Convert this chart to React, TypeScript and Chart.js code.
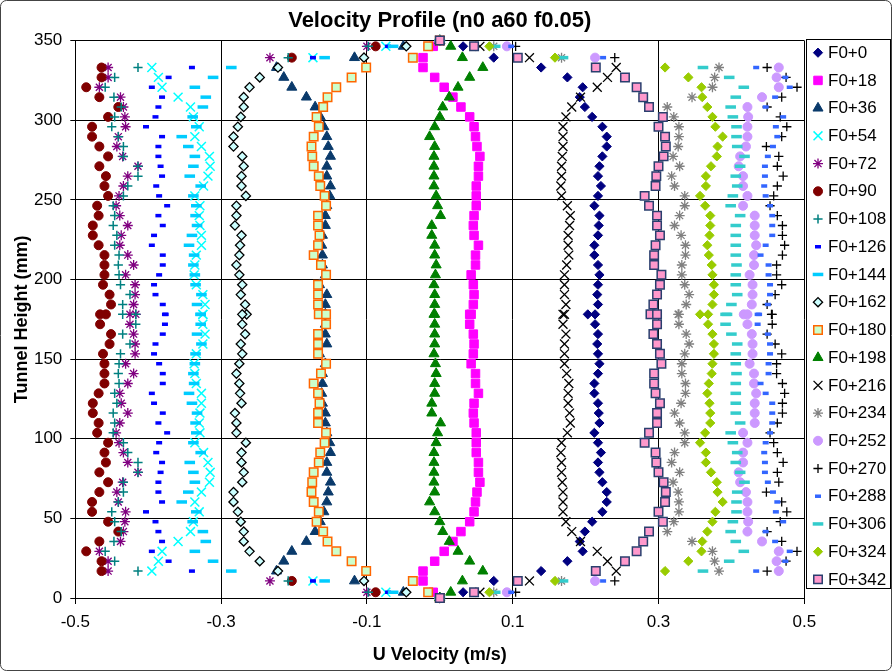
import React, { useEffect, useRef } from "react";
import { Chart, registerables } from "chart.js";
import { drawPoint } from "chart.js/helpers";

Chart.register(...registerables);

// Tunnel heights (mm) of the measurement rows
const heights = [0, 3.6, 10.7, 16.9, 23.1, 29.3, 35.5, 41.7, 47.9, 54.1, 60.3, 66.5, 72.7, 78.9, 85.1, 91.3, 97.5, 103.7, 109.9, 116.1, 122.3, 128.5, 134.7, 140.9, 147.1, 153.3, 159.5, 165.7, 171.9, 178.1, 178.1, 184.3, 190.5, 196.7, 202.9, 209.1, 215.3, 221.5, 227.7, 233.9, 240.1, 246.3, 252.5, 258.7, 264.9, 271.1, 277.3, 283.5, 289.7, 295.9, 302.1, 308.3, 314.5, 320.7, 326.9, 333.1, 339.3, 346.4, 350];

const seriesLabels = ["F0+0", "F0+18", "F0+36", "F0+54", "F0+72", "F0+90", "F0+108", "F0+126", "F0+144", "F0+162", "F0+180", "F0+198", "F0+216", "F0+234", "F0+252", "F0+270", "F0+288", "F0+306", "F0+324", "F0+342"];

const uF0 = [0, 0.032, 0.074, 0.139, 0.175, 0.196, 0.192, 0.199, 0.209, 0.223, 0.229, 0.229, 0.223, 0.219, 0.217, 0.221, 0.217, 0.212, 0.219, 0.218, 0.217, 0.212, 0.212, 0.217, 0.219, 0.217, 0.216, 0.217, 0.213, 0.203, 0.213, 0.217, 0.216, 0.217, 0.219, 0.217, 0.212, 0.212, 0.217, 0.218, 0.219, 0.212, 0.217, 0.221, 0.217, 0.219, 0.223, 0.229, 0.229, 0.223, 0.209, 0.199, 0.192, 0.196, 0.175, 0.139, 0.074, 0.032, 0];
const uF18 = [0, -0.009, -0.023, -0.023, -0.007, 0.006, 0.018, 0.029, 0.041, 0.047, 0.049, 0.051, 0.055, 0.053, 0.053, 0.050, 0.050, 0.050, 0.047, 0.046, 0.047, 0.053, 0.049, 0.049, 0.043, 0.046, 0.047, 0.046, 0.041, 0.043, 0.041, 0.046, 0.047, 0.046, 0.043, 0.049, 0.049, 0.053, 0.047, 0.046, 0.047, 0.050, 0.050, 0.050, 0.053, 0.053, 0.055, 0.051, 0.049, 0.047, 0.041, 0.029, 0.018, 0.006, -0.007, -0.023, -0.023, -0.009, 0];
const uF36 = [0, -0.050, -0.117, -0.224, -0.214, -0.203, -0.183, -0.171, -0.164, -0.159, -0.155, -0.153, -0.150, -0.155, -0.155, -0.150, -0.151, -0.155, -0.157, -0.157, -0.161, -0.162, -0.161, -0.161, -0.157, -0.165, -0.155, -0.157, -0.157, -0.157, -0.157, -0.157, -0.155, -0.165, -0.157, -0.161, -0.161, -0.162, -0.161, -0.157, -0.157, -0.155, -0.151, -0.150, -0.155, -0.155, -0.150, -0.153, -0.155, -0.159, -0.164, -0.171, -0.183, -0.203, -0.214, -0.224, -0.117, -0.050, 0];
const uF54 = [0, -0.074, -0.174, -0.395, -0.386, -0.381, -0.359, -0.342, -0.338, -0.330, -0.336, -0.327, -0.316, -0.315, -0.318, -0.324, -0.336, -0.329, -0.330, -0.329, -0.327, -0.327, -0.334, -0.336, -0.337, -0.334, -0.325, -0.322, -0.325, -0.325, -0.325, -0.322, -0.325, -0.334, -0.337, -0.336, -0.334, -0.327, -0.327, -0.329, -0.330, -0.329, -0.336, -0.324, -0.318, -0.315, -0.316, -0.327, -0.336, -0.330, -0.338, -0.342, -0.359, -0.381, -0.386, -0.395, -0.174, -0.074, 0];
const uF72 = [0, -0.100, -0.233, -0.455, -0.455, -0.467, -0.438, -0.434, -0.432, -0.431, -0.441, -0.443, -0.435, -0.414, -0.428, -0.434, -0.440, -0.444, -0.439, -0.428, -0.437, -0.439, -0.428, -0.420, -0.431, -0.418, -0.418, -0.420, -0.425, -0.417, -0.425, -0.420, -0.418, -0.418, -0.431, -0.420, -0.428, -0.439, -0.437, -0.428, -0.439, -0.444, -0.440, -0.434, -0.428, -0.414, -0.435, -0.443, -0.441, -0.431, -0.432, -0.434, -0.438, -0.467, -0.455, -0.455, -0.233, -0.100, 0];
const uF90 = [0, -0.088, -0.203, -0.464, -0.464, -0.485, -0.467, -0.441, -0.455, -0.477, -0.477, -0.467, -0.455, -0.467, -0.458, -0.460, -0.455, -0.470, -0.468, -0.476, -0.476, -0.468, -0.460, -0.460, -0.460, -0.462, -0.453, -0.451, -0.466, -0.458, -0.466, -0.451, -0.453, -0.462, -0.460, -0.460, -0.460, -0.468, -0.476, -0.476, -0.468, -0.470, -0.455, -0.460, -0.458, -0.467, -0.455, -0.467, -0.477, -0.477, -0.455, -0.441, -0.467, -0.485, -0.464, -0.464, -0.203, -0.088, 0];
const uF108 = [0, -0.098, -0.208, -0.414, -0.446, -0.459, -0.447, -0.437, -0.446, -0.450, -0.441, -0.434, -0.434, -0.414, -0.414, -0.428, -0.434, -0.448, -0.446, -0.448, -0.443, -0.446, -0.440, -0.441, -0.440, -0.438, -0.425, -0.435, -0.417, -0.435, -0.417, -0.435, -0.425, -0.438, -0.440, -0.441, -0.440, -0.446, -0.443, -0.448, -0.446, -0.448, -0.434, -0.428, -0.414, -0.414, -0.434, -0.434, -0.441, -0.450, -0.446, -0.437, -0.447, -0.459, -0.446, -0.414, -0.208, -0.098, 0];
const uF126 = [0, -0.071, -0.174, -0.340, -0.372, -0.395, -0.381, -0.386, -0.390, -0.403, -0.381, -0.386, -0.386, -0.383, -0.381, -0.389, -0.385, -0.374, -0.386, -0.380, -0.392, -0.395, -0.380, -0.380, -0.385, -0.392, -0.390, -0.380, -0.377, -0.376, -0.377, -0.380, -0.390, -0.392, -0.385, -0.380, -0.380, -0.395, -0.392, -0.380, -0.386, -0.374, -0.385, -0.389, -0.381, -0.383, -0.386, -0.386, -0.381, -0.403, -0.390, -0.386, -0.381, -0.395, -0.372, -0.340, -0.174, -0.071, 0];
const uF144 = [0, -0.064, -0.158, -0.286, -0.311, -0.336, -0.321, -0.325, -0.339, -0.334, -0.354, -0.345, -0.336, -0.338, -0.343, -0.328, -0.338, -0.334, -0.335, -0.333, -0.340, -0.344, -0.337, -0.338, -0.336, -0.335, -0.327, -0.333, -0.328, -0.328, -0.328, -0.333, -0.327, -0.335, -0.336, -0.338, -0.337, -0.344, -0.340, -0.333, -0.335, -0.334, -0.338, -0.328, -0.343, -0.338, -0.336, -0.345, -0.354, -0.334, -0.339, -0.325, -0.321, -0.336, -0.311, -0.286, -0.158, -0.064, 0];
const uF162 = [0, -0.046, -0.104, -0.222, -0.247, -0.261, -0.269, -0.269, -0.273, -0.277, -0.283, -0.283, -0.271, -0.269, -0.272, -0.272, -0.266, -0.279, -0.279, -0.281, -0.272, -0.274, -0.275, -0.279, -0.275, -0.271, -0.273, -0.267, -0.271, -0.265, -0.271, -0.267, -0.273, -0.271, -0.275, -0.279, -0.275, -0.274, -0.272, -0.281, -0.279, -0.279, -0.266, -0.272, -0.272, -0.269, -0.271, -0.283, -0.283, -0.277, -0.273, -0.269, -0.269, -0.261, -0.247, -0.222, -0.104, -0.046, 0];
const uF180 = [0, -0.016, -0.037, -0.101, -0.121, -0.142, -0.154, -0.160, -0.169, -0.166, -0.173, -0.176, -0.175, -0.173, -0.166, -0.164, -0.158, -0.156, -0.167, -0.167, -0.165, -0.167, -0.173, -0.163, -0.156, -0.167, -0.167, -0.167, -0.156, -0.166, -0.156, -0.167, -0.167, -0.167, -0.156, -0.163, -0.173, -0.167, -0.165, -0.167, -0.167, -0.156, -0.158, -0.164, -0.166, -0.173, -0.175, -0.176, -0.173, -0.166, -0.169, -0.160, -0.154, -0.142, -0.121, -0.101, -0.037, -0.016, 0];
const uF198 = [0, 0.015, 0.031, 0.059, 0.041, 0.025, 0.013, 0.004, 0.000, -0.007, -0.014, -0.007, -0.008, -0.008, -0.008, -0.008, -0.005, -0.003, 0.001, -0.011, -0.011, -0.007, -0.007, -0.005, -0.006, -0.008, -0.007, -0.007, -0.007, -0.008, -0.007, -0.007, -0.007, -0.008, -0.006, -0.005, -0.007, -0.007, -0.011, -0.011, 0.001, -0.003, -0.005, -0.008, -0.008, -0.008, -0.008, -0.007, -0.014, -0.007, 0.000, 0.004, 0.013, 0.025, 0.041, 0.059, 0.031, 0.015, 0];
const uF216 = [0, 0.055, 0.123, 0.242, 0.230, 0.216, 0.193, 0.181, 0.173, 0.169, 0.169, 0.169, 0.168, 0.167, 0.167, 0.166, 0.167, 0.175, 0.179, 0.178, 0.176, 0.176, 0.177, 0.174, 0.171, 0.171, 0.171, 0.173, 0.169, 0.171, 0.169, 0.173, 0.171, 0.171, 0.171, 0.174, 0.177, 0.176, 0.176, 0.178, 0.179, 0.175, 0.167, 0.166, 0.167, 0.167, 0.168, 0.169, 0.169, 0.169, 0.173, 0.181, 0.193, 0.216, 0.230, 0.242, 0.123, 0.055, 0];
const uF234 = [0, 0.074, 0.167, 0.383, 0.377, 0.374, 0.346, 0.312, 0.321, 0.328, 0.328, 0.327, 0.320, 0.329, 0.318, 0.322, 0.336, 0.336, 0.329, 0.322, 0.331, 0.337, 0.337, 0.332, 0.332, 0.336, 0.342, 0.338, 0.328, 0.327, 0.328, 0.338, 0.342, 0.336, 0.332, 0.332, 0.337, 0.337, 0.331, 0.322, 0.329, 0.336, 0.336, 0.322, 0.318, 0.329, 0.320, 0.327, 0.328, 0.328, 0.321, 0.312, 0.346, 0.374, 0.377, 0.383, 0.167, 0.074, 0];
const uF252 = [0, 0.092, 0.213, 0.465, 0.462, 0.465, 0.442, 0.422, 0.423, 0.422, 0.422, 0.420, 0.412, 0.410, 0.416, 0.416, 0.422, 0.416, 0.432, 0.432, 0.432, 0.434, 0.431, 0.431, 0.425, 0.429, 0.429, 0.428, 0.422, 0.417, 0.422, 0.428, 0.429, 0.429, 0.425, 0.431, 0.431, 0.434, 0.432, 0.432, 0.432, 0.416, 0.422, 0.416, 0.416, 0.410, 0.412, 0.420, 0.422, 0.422, 0.423, 0.422, 0.442, 0.465, 0.462, 0.465, 0.213, 0.092, 0];
const uF270 = [0, 0.104, 0.240, 0.449, 0.475, 0.490, 0.469, 0.449, 0.467, 0.476, 0.469, 0.448, 0.465, 0.463, 0.471, 0.463, 0.458, 0.453, 0.463, 0.470, 0.470, 0.473, 0.470, 0.462, 0.462, 0.469, 0.460, 0.449, 0.456, 0.455, 0.456, 0.449, 0.460, 0.469, 0.462, 0.462, 0.470, 0.473, 0.470, 0.470, 0.463, 0.453, 0.458, 0.463, 0.471, 0.463, 0.465, 0.448, 0.469, 0.476, 0.467, 0.449, 0.469, 0.490, 0.475, 0.449, 0.240, 0.104, 0];
const uF288 = [0, 0.098, 0.224, 0.434, 0.474, 0.480, 0.460, 0.447, 0.471, 0.461, 0.463, 0.457, 0.450, 0.446, 0.446, 0.445, 0.447, 0.453, 0.456, 0.456, 0.456, 0.447, 0.440, 0.451, 0.451, 0.453, 0.453, 0.450, 0.436, 0.438, 0.436, 0.450, 0.453, 0.453, 0.451, 0.451, 0.440, 0.447, 0.456, 0.456, 0.456, 0.453, 0.447, 0.445, 0.446, 0.446, 0.450, 0.457, 0.463, 0.461, 0.471, 0.447, 0.460, 0.480, 0.474, 0.434, 0.224, 0.098, 0];
const uF306 = [0, 0.076, 0.169, 0.361, 0.397, 0.417, 0.406, 0.399, 0.402, 0.407, 0.407, 0.408, 0.418, 0.412, 0.406, 0.408, 0.402, 0.399, 0.412, 0.406, 0.406, 0.406, 0.406, 0.407, 0.406, 0.406, 0.408, 0.400, 0.392, 0.394, 0.392, 0.400, 0.408, 0.406, 0.406, 0.407, 0.406, 0.406, 0.406, 0.406, 0.412, 0.399, 0.402, 0.408, 0.406, 0.412, 0.418, 0.408, 0.407, 0.407, 0.402, 0.399, 0.406, 0.417, 0.397, 0.361, 0.169, 0.076, 0];
const uF324 = [0, 0.068, 0.158, 0.309, 0.341, 0.359, 0.360, 0.367, 0.374, 0.378, 0.388, 0.381, 0.380, 0.372, 0.365, 0.365, 0.357, 0.364, 0.371, 0.371, 0.370, 0.367, 0.369, 0.373, 0.374, 0.376, 0.376, 0.374, 0.368, 0.357, 0.368, 0.374, 0.376, 0.376, 0.374, 0.373, 0.369, 0.367, 0.370, 0.371, 0.371, 0.364, 0.357, 0.365, 0.365, 0.372, 0.380, 0.381, 0.388, 0.378, 0.374, 0.367, 0.360, 0.359, 0.341, 0.309, 0.158, 0.068, 0];
const uF342 = [0, 0.047, 0.107, 0.214, 0.254, 0.270, 0.279, 0.287, 0.306, 0.300, 0.309, 0.310, 0.307, 0.300, 0.297, 0.296, 0.281, 0.287, 0.298, 0.298, 0.302, 0.296, 0.294, 0.294, 0.304, 0.302, 0.298, 0.293, 0.298, 0.289, 0.298, 0.293, 0.298, 0.302, 0.304, 0.294, 0.294, 0.296, 0.302, 0.298, 0.298, 0.287, 0.281, 0.296, 0.297, 0.300, 0.307, 0.310, 0.309, 0.300, 0.306, 0.287, 0.279, 0.270, 0.254, 0.214, 0.107, 0.047, 0];

const seriesValues = [uF0, uF18, uF36, uF54, uF72, uF90, uF108, uF126, uF144, uF162, uF180, uF198, uF216, uF234, uF252, uF270, uF288, uF306, uF324, uF342];

const xTicks = [-0.5, -0.3, -0.1, 0.1, 0.3, 0.5];
const yTicks = [0, 50, 100, 150, 200, 250, 300, 350];

const FONT = "'Liberation Sans', Arial, Helvetica, sans-serif";

const markerStyles = [
  { pointStyle: "rectRot", radius: 4.6, fill: "#000080", stroke: "#000080", width: 1 },
  { pointStyle: "rect", radius: 6, fill: "#FF00FF", stroke: "#FF00FF", width: 1 },
  { pointStyle: "triangle", radius: 5.8, fill: "#0A3A6B", stroke: "#0A3A6B", width: 1 },
  { pointStyle: "crossRot", radius: 6.3, fill: "#00FFFF", stroke: "#00FFFF", width: 1.5 },
  { pointStyle: "star", radius: 5, fill: "#800080", stroke: "#800080", width: 1.3 },
  { pointStyle: "circle", radius: 4.5, fill: "#800000", stroke: "#800000", width: 1 },
  { pointStyle: "cross", radius: 4.6, fill: "#008080", stroke: "#008080", width: 1.5 },
  { pointStyle: "line", radius: 3, fill: "#0000FF", stroke: "#0000FF", width: 3.5 },
  { pointStyle: "line", radius: 5.3, fill: "#00CCFF", stroke: "#00CCFF", width: 3.5 },
  { pointStyle: "rectRot", radius: 4.6, fill: "#CCFFFF", stroke: "#000000", width: 1.3 },
  { pointStyle: "rect", radius: 6, fill: "#CCFFCC", stroke: "#FF6600", width: 1.5 },
  { pointStyle: "triangle", radius: 5.8, fill: "#008000", stroke: "#008000", width: 1 },
  { pointStyle: "crossRot", radius: 6.3, fill: "#000000", stroke: "#000000", width: 1.3 },
  { pointStyle: "star", radius: 5, fill: "#808080", stroke: "#808080", width: 1.3 },
  { pointStyle: "circle", radius: 4.5, fill: "#CC99FF", stroke: "#CC99FF", width: 1 },
  { pointStyle: "cross", radius: 4.6, fill: "#000000", stroke: "#000000", width: 1.3 },
  { pointStyle: "line", radius: 3, fill: "#3366FF", stroke: "#3366FF", width: 3.5 },
  { pointStyle: "line", radius: 5.3, fill: "#33CCCC", stroke: "#33CCCC", width: 3.5 },
  { pointStyle: "rectRot", radius: 4.6, fill: "#99CC00", stroke: "#99CC00", width: 1 },
  { pointStyle: "rect", radius: 6, fill: "#FF99CC", stroke: "#2A3F6E", width: 1.5 },
];

const frameAndLegend = {
  id: "frameAndLegend",
  beforeDraw(chart: any) {
    const { ctx, width, height } = chart;
    ctx.save();
    ctx.fillStyle = "#ffffff";
    ctx.fillRect(0, 0, width, height);
    ctx.restore();
  },
  afterDraw(chart: any) {
    const ctx = chart.ctx;
    ctx.save();
    const lx = 806, ly = 39, lw = 84, lh = 549;
    ctx.fillStyle = "#ffffff";
    ctx.fillRect(lx, ly, lw, lh);
    ctx.strokeStyle = "#000000";
    ctx.lineWidth = 1;
    ctx.strokeRect(lx + 0.5, ly + 0.5, lw, lh);
    ctx.font = `17px ${FONT}`;
    ctx.textBaseline = "middle";
    ctx.textAlign = "left";
    chart.data.datasets.forEach((ds: any, i: number) => {
      const y = ly + 13.7 + i * 27.72;
      ctx.fillStyle = ds.pointBackgroundColor;
      ctx.strokeStyle = ds.pointBorderColor;
      ctx.lineWidth = ds.pointBorderWidth;
      drawPoint(ctx, { pointStyle: ds.pointStyle, radius: ds.pointRadius, borderWidth: ds.pointBorderWidth, rotation: 0 }, 818, y);
      ctx.fillStyle = "#000000";
      ctx.fillText(ds.label, 828, y + 0.5);
    });
    ctx.strokeStyle = "#444444";
    ctx.lineWidth = 1;
    ctx.beginPath();
    if (ctx.roundRect) ctx.roundRect(0.5, 0.5, chart.width - 1, chart.height - 1, 6);
    else ctx.rect(0.5, 0.5, chart.width - 1, chart.height - 1);
    ctx.stroke();
    ctx.restore();
  },
};

export default function App() {
  const canvasRef = useRef<HTMLCanvasElement | null>(null);

  useEffect(() => {
    document.body.style.margin = "0";
    const canvas = canvasRef.current;
    if (!canvas) return;
    Chart.defaults.font.family = FONT;

    const datasets = seriesLabels.map((label, si) => {
      const st = markerStyles[si];
      return {
        label,
        data: seriesValues[si].map((u, i) => ({ x: u, y: heights[i] })),
        pointStyle: st.pointStyle,
        pointRadius: st.radius,
        pointHoverRadius: st.radius,
        pointBackgroundColor: st.fill,
        pointBorderColor: st.stroke,
        pointBorderWidth: st.width,
        showLine: false,
        clip: false,
        order: seriesLabels.length - si,
      };
    });

    const chart = new Chart(canvas, {
      type: "scatter",
      data: { datasets },
      options: {
        responsive: false,
        animation: false,
        devicePixelRatio: 1,
        events: [],
        layout: { padding: { left: 0, right: 87.7, top: 0, bottom: 0 } },
        plugins: {
          legend: { display: false },
          tooltip: { enabled: false },
          title: {
            display: true,
            fullSize: false,
            text: "Velocity Profile (n0 a60 f0.05)",
            color: "#000000",
            font: { family: FONT, size: 22, weight: "bold" },
            padding: { top: 8, bottom: 6.2 },
          },
        },
        scales: {
          x: {
            type: "linear",
            min: -0.5,
            max: 0.5,
            afterBuildTicks: (axis: any) => {
              axis.ticks = xTicks.map((v) => ({ value: v }));
            },
            afterFit: (axis: any) => {
              axis.height = 73;
            },
            grid: { color: "#000000", lineWidth: 1, drawTicks: true, tickLength: 6, tickColor: "#000000" },
            border: { color: "#000000", width: 1 },
            ticks: {
              color: "#000000",
              font: { family: FONT, size: 17 },
              padding: 8,
              autoSkip: false,
              maxRotation: 0,
              callback: (v: any) => String(Math.round(Number(v) * 10) / 10),
            },
            title: {
              display: true,
              text: "U Velocity (m/s)",
              color: "#000000",
              font: { family: FONT, size: 18, weight: "bold" },
              padding: { top: 0, bottom: 5 },
            },
          },
          y: {
            type: "linear",
            min: 0,
            max: 350,
            afterBuildTicks: (axis: any) => {
              axis.ticks = yTicks.map((v) => ({ value: v }));
            },
            afterFit: (axis: any) => {
              axis.width = 75.3;
            },
            grid: { color: "#000000", lineWidth: 1, drawTicks: true, tickLength: 5, tickColor: "#000000" },
            border: { color: "#000000", width: 1 },
            ticks: {
              color: "#000000",
              font: { family: FONT, size: 17 },
              padding: 8,
              autoSkip: false,
              callback: (v: any) => String(v),
            },
            title: {
              display: true,
              text: "Tunnel Height (mm)",
              color: "#000000",
              font: { family: FONT, size: 18, weight: "bold" },
              padding: { top: 11, bottom: 0 },
            },
          },
        },
      },
      plugins: [frameAndLegend],
    } as any);

    return () => {
      chart.destroy();
    };
  }, []);

  return (
    <div style={{ width: 892, height: 671 }}>
      <canvas ref={canvasRef} width={892} height={671} style={{ display: "block" }} />
    </div>
  );
}
